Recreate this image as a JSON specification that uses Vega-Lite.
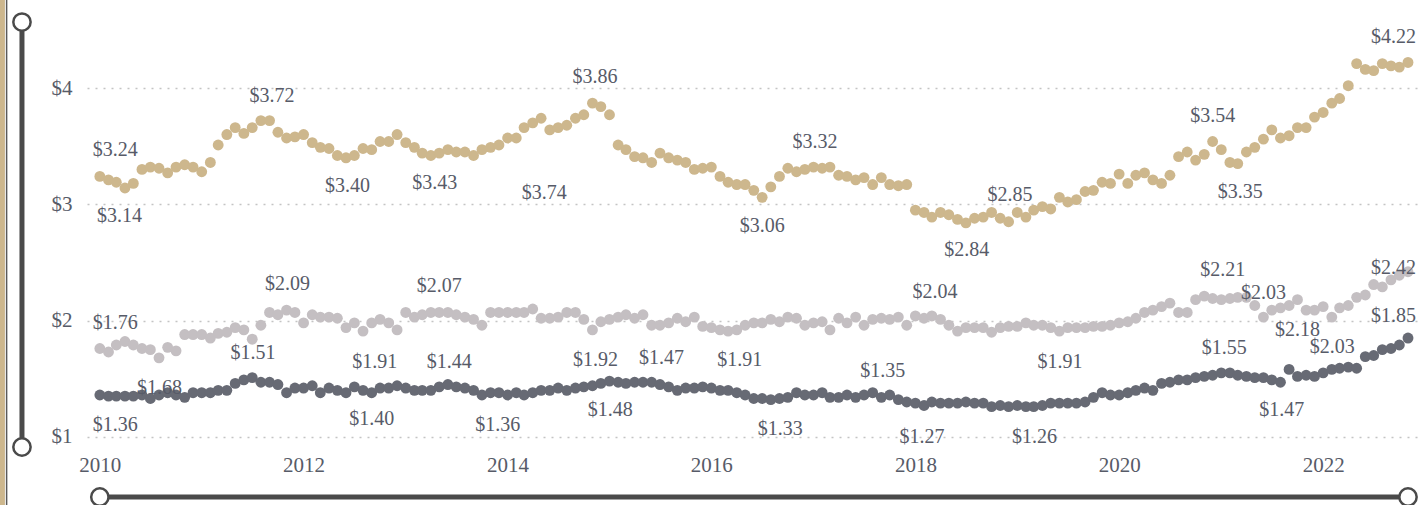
{
  "$schema": "https://vega.github.io/schema/vega-lite/v6.json",
  "width": 1333,
  "height": 437,
  "autosize": {"type": "none"},
  "padding": {"left": 87, "top": 10, "right": 2, "bottom": 58},
  "background": "white",
  "config": {"view": {"stroke": null}, "font": "Liberation Serif"},
  "encoding": {
    "x": {
      "field": "d", "type": "temporal",
      "scale": {"type": "utc", "nice": false, "domain": [{"year": 2009, "month": 11, "date": 16, "utc": true}, {"year": 2022, "month": 12, "date": 14, "utc": true}]},
      "axis": {
        "title": null, "grid": false, "domain": false, "ticks": false, "labelFlush": false,
        "values": [{"year": 2010, "utc": true}, {"year": 2012, "utc": true}, {"year": 2014, "utc": true}, {"year": 2016, "utc": true}, {"year": 2018, "utc": true}, {"year": 2020, "utc": true}, {"year": 2022, "utc": true}],
        "format": "%Y", "labelFontSize": 21, "labelColor": "#575b68", "labelPadding": 7, "labelFont": "Liberation Serif"
      }
    },
    "y": {
      "field": "v", "type": "quantitative",
      "scale": {"domain": [0.913, 4.671], "nice": false, "zero": false},
      "axis": {
        "title": null, "values": [1, 2, 3, 4], "format": "$.0f", "grid": true, "gridDash": [2, 6], "gridColor": "#c4c4c4", "gridWidth": 1.3,
        "domain": false, "ticks": false, "labelFontSize": 21, "labelColor": "#575b68", "labelPadding": 15, "labelFont": "Liberation Serif"
      }
    }
  },
  "layer": [
    {
      "data": {"values": [{"d": "2009-01-17", "v": 0.40, "v2": 4.80}]},
      "mark": {"type": "rule", "color": "#cdb78d", "strokeWidth": 5},
      "encoding": {"y2": {"field": "v2"}}
    },
    {
      "data": {"values": [{"d": "2009-02-01", "v": 0.40, "v2": 4.80}]},
      "mark": {"type": "rule", "color": "#5a5a5a", "strokeWidth": 1.5},
      "encoding": {"y2": {"field": "v2"}}
    },
    {
      "data": {"values": [{"d": "2009-03-28", "v": 0.913, "v2": 4.567}]},
      "mark": {"type": "rule", "color": "#4a4a4a", "strokeWidth": 5},
      "encoding": {"y2": {"field": "v2"}}
    },
    {
      "data": {"values": [{"d": "2010-01-01", "d2": "2022-11-01", "v": 0.483}]},
      "mark": {"type": "rule", "color": "#4a4a4a", "strokeWidth": 5},
      "encoding": {"x2": {"field": "d2"}}
    },
    {
      "data": {"values": [{"d": "2009-03-28", "v": 4.567}, {"d": "2009-03-28", "v": 0.913}, {"d": "2010-01-01", "v": 0.483}, {"d": "2022-11-01", "v": 0.483}]},
      "mark": {"type": "point", "shape": "circle", "filled": true, "fill": "white", "stroke": "#4a4a4a", "strokeWidth": 2.5, "size": 300, "opacity": 1}
    },
    {
      "data": {"name": "pts"},
      "mark": {"type": "circle", "size": 118, "opacity": 1},
      "encoding": {
        "color": {"field": "s", "type": "nominal", "legend": null, "scale": {"domain": ["A", "B", "C"], "range": ["#cdb78d", "#c4bfc2", "#676a74"]}}
      }
    },
    {
      "data": {"name": "labels"},
      "mark": {"type": "text", "fontSize": 20, "color": "#575b68", "align": "center", "baseline": "middle", "font": "Liberation Serif"},
      "encoding": {"text": {"field": "t"}}
    }
  ],
  "datasets": {
    "labels": [
      {"d": "2010-02-25", "v": 3.467, "t": "$3.24"},
      {"d": "2010-03-12", "v": 2.90, "t": "$3.14"},
      {"d": "2011-09-10", "v": 3.93, "t": "$3.72"},
      {"d": "2012-06-06", "v": 3.157, "t": "$3.40"},
      {"d": "2013-04-15", "v": 3.18, "t": "$3.43"},
      {"d": "2014-05-12", "v": 3.098, "t": "$3.74"},
      {"d": "2014-11-10", "v": 4.095, "t": "$3.86"},
      {"d": "2017-01-06", "v": 3.536, "t": "$3.32"},
      {"d": "2016-07-01", "v": 2.814, "t": "$3.06"},
      {"d": "2018-07-04", "v": 2.607, "t": "$2.84"},
      {"d": "2018-12-06", "v": 3.08, "t": "$2.85"},
      {"d": "2020-12-01", "v": 3.76, "t": "$3.54"},
      {"d": "2021-03-10", "v": 3.106, "t": "$3.35"},
      {"d": "2022-09-10", "v": 4.44, "t": "$4.22"},
      {"d": "2010-02-25", "v": 1.98, "t": "$1.76"},
      {"d": "2010-08-03", "v": 1.42, "t": "$1.68"},
      {"d": "2010-02-25", "v": 1.10, "t": "$1.36"},
      {"d": "2011-07-04", "v": 1.72, "t": "$1.51"},
      {"d": "2011-11-04", "v": 2.315, "t": "$2.09"},
      {"d": "2012-09-12", "v": 1.644, "t": "$1.91"},
      {"d": "2012-09-01", "v": 1.154, "t": "$1.40"},
      {"d": "2013-05-01", "v": 2.30, "t": "$2.07"},
      {"d": "2013-06-06", "v": 1.644, "t": "$1.44"},
      {"d": "2013-11-27", "v": 1.10, "t": "$1.36"},
      {"d": "2014-11-12", "v": 1.66, "t": "$1.92"},
      {"d": "2015-07-06", "v": 1.68, "t": "$1.47"},
      {"d": "2015-01-04", "v": 1.23, "t": "$1.48"},
      {"d": "2016-04-12", "v": 1.66, "t": "$1.91"},
      {"d": "2016-09-04", "v": 1.07, "t": "$1.33"},
      {"d": "2017-09-06", "v": 1.566, "t": "$1.35"},
      {"d": "2018-03-12", "v": 2.246, "t": "$2.04"},
      {"d": "2018-01-25", "v": 1.00, "t": "$1.27"},
      {"d": "2019-03-04", "v": 1.00, "t": "$1.26"},
      {"d": "2019-06-03", "v": 1.644, "t": "$1.91"},
      {"d": "2021-01-12", "v": 1.764, "t": "$1.55"},
      {"d": "2021-01-06", "v": 2.435, "t": "$2.21"},
      {"d": "2021-06-01", "v": 2.237, "t": "$2.03"},
      {"d": "2021-10-01", "v": 1.919, "t": "$2.18"},
      {"d": "2022-02-03", "v": 1.773, "t": "$2.03"},
      {"d": "2021-08-06", "v": 1.23, "t": "$1.47"},
      {"d": "2022-09-10", "v": 2.452, "t": "$2.42"},
      {"d": "2022-09-10", "v": 2.04, "t": "$1.85"}
    ],
    "pts": [
      {"d":"2010-01-01","s":"A","v":3.24},{"d":"2010-02-01","s":"A","v":3.21},{"d":"2010-03-01","s":"A","v":3.19},{"d":"2010-04-01","s":"A","v":3.14},{"d":"2010-05-01","s":"A","v":3.18},{"d":"2010-06-01","s":"A","v":3.30},{"d":"2010-07-01","s":"A","v":3.32},{"d":"2010-08-01","s":"A","v":3.31},{"d":"2010-09-01","s":"A","v":3.27},{"d":"2010-10-01","s":"A","v":3.32},{"d":"2010-11-01","s":"A","v":3.34},{"d":"2010-12-01","s":"A","v":3.32},
      {"d":"2011-01-01","s":"A","v":3.28},{"d":"2011-02-01","s":"A","v":3.36},{"d":"2011-03-01","s":"A","v":3.51},{"d":"2011-04-01","s":"A","v":3.60},{"d":"2011-05-01","s":"A","v":3.66},{"d":"2011-06-01","s":"A","v":3.61},{"d":"2011-07-01","s":"A","v":3.66},{"d":"2011-08-01","s":"A","v":3.72},{"d":"2011-09-01","s":"A","v":3.72},{"d":"2011-10-01","s":"A","v":3.62},{"d":"2011-11-01","s":"A","v":3.57},{"d":"2011-12-01","s":"A","v":3.58},
      {"d":"2012-01-01","s":"A","v":3.60},{"d":"2012-02-01","s":"A","v":3.53},{"d":"2012-03-01","s":"A","v":3.49},{"d":"2012-04-01","s":"A","v":3.48},{"d":"2012-05-01","s":"A","v":3.42},{"d":"2012-06-01","s":"A","v":3.40},{"d":"2012-07-01","s":"A","v":3.42},{"d":"2012-08-01","s":"A","v":3.48},{"d":"2012-09-01","s":"A","v":3.47},{"d":"2012-10-01","s":"A","v":3.54},{"d":"2012-11-01","s":"A","v":3.54},{"d":"2012-12-01","s":"A","v":3.60},
      {"d":"2013-01-01","s":"A","v":3.53},{"d":"2013-02-01","s":"A","v":3.49},{"d":"2013-03-01","s":"A","v":3.44},{"d":"2013-04-01","s":"A","v":3.42},{"d":"2013-05-01","s":"A","v":3.44},{"d":"2013-06-01","s":"A","v":3.47},{"d":"2013-07-01","s":"A","v":3.45},{"d":"2013-08-01","s":"A","v":3.45},{"d":"2013-09-01","s":"A","v":3.42},{"d":"2013-10-01","s":"A","v":3.47},{"d":"2013-11-01","s":"A","v":3.49},{"d":"2013-12-01","s":"A","v":3.51},
      {"d":"2014-01-01","s":"A","v":3.57},{"d":"2014-02-01","s":"A","v":3.57},{"d":"2014-03-01","s":"A","v":3.66},{"d":"2014-04-01","s":"A","v":3.70},{"d":"2014-05-01","s":"A","v":3.74},{"d":"2014-06-01","s":"A","v":3.64},{"d":"2014-07-01","s":"A","v":3.66},{"d":"2014-08-01","s":"A","v":3.68},{"d":"2014-09-01","s":"A","v":3.74},{"d":"2014-10-01","s":"A","v":3.77},{"d":"2014-11-01","s":"A","v":3.87},{"d":"2014-12-01","s":"A","v":3.84},
      {"d":"2015-01-01","s":"A","v":3.77},{"d":"2015-02-01","s":"A","v":3.51},{"d":"2015-03-01","s":"A","v":3.47},{"d":"2015-04-01","s":"A","v":3.41},{"d":"2015-05-01","s":"A","v":3.40},{"d":"2015-06-01","s":"A","v":3.36},{"d":"2015-07-01","s":"A","v":3.44},{"d":"2015-08-01","s":"A","v":3.40},{"d":"2015-09-01","s":"A","v":3.38},{"d":"2015-10-01","s":"A","v":3.36},{"d":"2015-11-01","s":"A","v":3.30},{"d":"2015-12-01","s":"A","v":3.31},
      {"d":"2016-01-01","s":"A","v":3.32},{"d":"2016-02-01","s":"A","v":3.24},{"d":"2016-03-01","s":"A","v":3.19},{"d":"2016-04-01","s":"A","v":3.17},{"d":"2016-05-01","s":"A","v":3.17},{"d":"2016-06-01","s":"A","v":3.12},{"d":"2016-07-01","s":"A","v":3.06},{"d":"2016-08-01","s":"A","v":3.15},{"d":"2016-09-01","s":"A","v":3.24},{"d":"2016-10-01","s":"A","v":3.31},{"d":"2016-11-01","s":"A","v":3.28},{"d":"2016-12-01","s":"A","v":3.30},
      {"d":"2017-01-01","s":"A","v":3.32},{"d":"2017-02-01","s":"A","v":3.31},{"d":"2017-03-01","s":"A","v":3.32},{"d":"2017-04-01","s":"A","v":3.25},{"d":"2017-05-01","s":"A","v":3.24},{"d":"2017-06-01","s":"A","v":3.21},{"d":"2017-07-01","s":"A","v":3.23},{"d":"2017-08-01","s":"A","v":3.17},{"d":"2017-09-01","s":"A","v":3.23},{"d":"2017-10-01","s":"A","v":3.17},{"d":"2017-11-01","s":"A","v":3.16},{"d":"2017-12-01","s":"A","v":3.17},
      {"d":"2018-01-01","s":"A","v":2.95},{"d":"2018-02-01","s":"A","v":2.93},{"d":"2018-03-01","s":"A","v":2.89},{"d":"2018-04-01","s":"A","v":2.93},{"d":"2018-05-01","s":"A","v":2.91},{"d":"2018-06-01","s":"A","v":2.87},{"d":"2018-07-01","s":"A","v":2.84},{"d":"2018-08-01","s":"A","v":2.88},{"d":"2018-09-01","s":"A","v":2.89},{"d":"2018-10-01","s":"A","v":2.93},{"d":"2018-11-01","s":"A","v":2.88},{"d":"2018-12-01","s":"A","v":2.85},
      {"d":"2019-01-01","s":"A","v":2.93},{"d":"2019-02-01","s":"A","v":2.89},{"d":"2019-03-01","s":"A","v":2.95},{"d":"2019-04-01","s":"A","v":2.98},{"d":"2019-05-01","s":"A","v":2.96},{"d":"2019-06-01","s":"A","v":3.06},{"d":"2019-07-01","s":"A","v":3.02},{"d":"2019-08-01","s":"A","v":3.04},{"d":"2019-09-01","s":"A","v":3.11},{"d":"2019-10-01","s":"A","v":3.12},{"d":"2019-11-01","s":"A","v":3.19},{"d":"2019-12-01","s":"A","v":3.18},
      {"d":"2020-01-01","s":"A","v":3.26},{"d":"2020-02-01","s":"A","v":3.18},{"d":"2020-03-01","s":"A","v":3.25},{"d":"2020-04-01","s":"A","v":3.27},{"d":"2020-05-01","s":"A","v":3.21},{"d":"2020-06-01","s":"A","v":3.18},{"d":"2020-07-01","s":"A","v":3.25},{"d":"2020-08-01","s":"A","v":3.41},{"d":"2020-09-01","s":"A","v":3.45},{"d":"2020-10-01","s":"A","v":3.38},{"d":"2020-11-01","s":"A","v":3.43},{"d":"2020-12-01","s":"A","v":3.54},
      {"d":"2021-01-01","s":"A","v":3.47},{"d":"2021-02-01","s":"A","v":3.36},{"d":"2021-03-01","s":"A","v":3.35},{"d":"2021-04-01","s":"A","v":3.45},{"d":"2021-05-01","s":"A","v":3.49},{"d":"2021-06-01","s":"A","v":3.56},{"d":"2021-07-01","s":"A","v":3.64},{"d":"2021-08-01","s":"A","v":3.57},{"d":"2021-09-01","s":"A","v":3.59},{"d":"2021-10-01","s":"A","v":3.66},{"d":"2021-11-01","s":"A","v":3.66},{"d":"2021-12-01","s":"A","v":3.75},
      {"d":"2022-01-01","s":"A","v":3.79},{"d":"2022-02-01","s":"A","v":3.87},{"d":"2022-03-01","s":"A","v":3.91},{"d":"2022-04-01","s":"A","v":4.02},{"d":"2022-05-01","s":"A","v":4.21},{"d":"2022-06-01","s":"A","v":4.16},{"d":"2022-07-01","s":"A","v":4.15},{"d":"2022-08-01","s":"A","v":4.21},{"d":"2022-09-01","s":"A","v":4.19},{"d":"2022-10-01","s":"A","v":4.18},{"d":"2022-11-01","s":"A","v":4.22},

      {"d":"2010-01-01","s":"B","v":1.76},{"d":"2010-02-01","s":"B","v":1.73},{"d":"2010-03-01","s":"B","v":1.79},{"d":"2010-04-01","s":"B","v":1.82},{"d":"2010-05-01","s":"B","v":1.79},{"d":"2010-06-01","s":"B","v":1.76},{"d":"2010-07-01","s":"B","v":1.75},{"d":"2010-08-01","s":"B","v":1.68},{"d":"2010-09-01","s":"B","v":1.77},{"d":"2010-10-01","s":"B","v":1.74},{"d":"2010-11-01","s":"B","v":1.88},{"d":"2010-12-01","s":"B","v":1.88},
      {"d":"2011-01-01","s":"B","v":1.88},{"d":"2011-02-01","s":"B","v":1.85},{"d":"2011-03-01","s":"B","v":1.89},{"d":"2011-04-01","s":"B","v":1.90},{"d":"2011-05-01","s":"B","v":1.94},{"d":"2011-06-01","s":"B","v":1.92},{"d":"2011-07-01","s":"B","v":1.84},{"d":"2011-08-01","s":"B","v":1.96},{"d":"2011-09-01","s":"B","v":2.07},{"d":"2011-10-01","s":"B","v":2.05},{"d":"2011-11-01","s":"B","v":2.09},{"d":"2011-12-01","s":"B","v":2.07},
      {"d":"2012-01-01","s":"B","v":1.98},{"d":"2012-02-01","s":"B","v":2.05},{"d":"2012-03-01","s":"B","v":2.03},{"d":"2012-04-01","s":"B","v":2.03},{"d":"2012-05-01","s":"B","v":2.02},{"d":"2012-06-01","s":"B","v":1.94},{"d":"2012-07-01","s":"B","v":1.98},{"d":"2012-08-01","s":"B","v":1.91},{"d":"2012-09-01","s":"B","v":1.98},{"d":"2012-10-01","s":"B","v":2.01},{"d":"2012-11-01","s":"B","v":1.98},{"d":"2012-12-01","s":"B","v":1.92},
      {"d":"2013-01-01","s":"B","v":2.07},{"d":"2013-02-01","s":"B","v":2.03},{"d":"2013-03-01","s":"B","v":2.05},{"d":"2013-04-01","s":"B","v":2.07},{"d":"2013-05-01","s":"B","v":2.07},{"d":"2013-06-01","s":"B","v":2.07},{"d":"2013-07-01","s":"B","v":2.05},{"d":"2013-08-01","s":"B","v":2.03},{"d":"2013-09-01","s":"B","v":2.01},{"d":"2013-10-01","s":"B","v":1.96},{"d":"2013-11-01","s":"B","v":2.07},{"d":"2013-12-01","s":"B","v":2.07},
      {"d":"2014-01-01","s":"B","v":2.07},{"d":"2014-02-01","s":"B","v":2.07},{"d":"2014-03-01","s":"B","v":2.07},{"d":"2014-04-01","s":"B","v":2.10},{"d":"2014-05-01","s":"B","v":2.02},{"d":"2014-06-01","s":"B","v":2.02},{"d":"2014-07-01","s":"B","v":2.03},{"d":"2014-08-01","s":"B","v":2.07},{"d":"2014-09-01","s":"B","v":2.07},{"d":"2014-10-01","s":"B","v":2.01},{"d":"2014-11-01","s":"B","v":1.92},{"d":"2014-12-01","s":"B","v":1.99},
      {"d":"2015-01-01","s":"B","v":2.01},{"d":"2015-02-01","s":"B","v":2.03},{"d":"2015-03-01","s":"B","v":2.05},{"d":"2015-04-01","s":"B","v":2.02},{"d":"2015-05-01","s":"B","v":2.05},{"d":"2015-06-01","s":"B","v":1.96},{"d":"2015-07-01","s":"B","v":1.96},{"d":"2015-08-01","s":"B","v":1.98},{"d":"2015-09-01","s":"B","v":2.02},{"d":"2015-10-01","s":"B","v":1.99},{"d":"2015-11-01","s":"B","v":2.03},{"d":"2015-12-01","s":"B","v":1.95},
      {"d":"2016-01-01","s":"B","v":1.94},{"d":"2016-02-01","s":"B","v":1.92},{"d":"2016-03-01","s":"B","v":1.91},{"d":"2016-04-01","s":"B","v":1.92},{"d":"2016-05-01","s":"B","v":1.96},{"d":"2016-06-01","s":"B","v":1.98},{"d":"2016-07-01","s":"B","v":1.98},{"d":"2016-08-01","s":"B","v":2.01},{"d":"2016-09-01","s":"B","v":1.99},{"d":"2016-10-01","s":"B","v":2.03},{"d":"2016-11-01","s":"B","v":2.02},{"d":"2016-12-01","s":"B","v":1.96},
      {"d":"2017-01-01","s":"B","v":1.98},{"d":"2017-02-01","s":"B","v":1.99},{"d":"2017-03-01","s":"B","v":1.92},{"d":"2017-04-01","s":"B","v":2.02},{"d":"2017-05-01","s":"B","v":1.98},{"d":"2017-06-01","s":"B","v":2.03},{"d":"2017-07-01","s":"B","v":1.96},{"d":"2017-08-01","s":"B","v":2.01},{"d":"2017-09-01","s":"B","v":2.02},{"d":"2017-10-01","s":"B","v":2.01},{"d":"2017-11-01","s":"B","v":2.03},{"d":"2017-12-01","s":"B","v":1.96},
      {"d":"2018-01-01","s":"B","v":2.04},{"d":"2018-02-01","s":"B","v":2.02},{"d":"2018-03-01","s":"B","v":2.04},{"d":"2018-04-01","s":"B","v":2.01},{"d":"2018-05-01","s":"B","v":1.96},{"d":"2018-06-01","s":"B","v":1.91},{"d":"2018-07-01","s":"B","v":1.94},{"d":"2018-08-01","s":"B","v":1.94},{"d":"2018-09-01","s":"B","v":1.94},{"d":"2018-10-01","s":"B","v":1.90},{"d":"2018-11-01","s":"B","v":1.94},{"d":"2018-12-01","s":"B","v":1.95},
      {"d":"2019-01-01","s":"B","v":1.95},{"d":"2019-02-01","s":"B","v":1.98},{"d":"2019-03-01","s":"B","v":1.96},{"d":"2019-04-01","s":"B","v":1.96},{"d":"2019-05-01","s":"B","v":1.94},{"d":"2019-06-01","s":"B","v":1.91},{"d":"2019-07-01","s":"B","v":1.94},{"d":"2019-08-01","s":"B","v":1.94},{"d":"2019-09-01","s":"B","v":1.94},{"d":"2019-10-01","s":"B","v":1.95},{"d":"2019-11-01","s":"B","v":1.95},{"d":"2019-12-01","s":"B","v":1.96},
      {"d":"2020-01-01","s":"B","v":1.98},{"d":"2020-02-01","s":"B","v":1.99},{"d":"2020-03-01","s":"B","v":2.02},{"d":"2020-04-01","s":"B","v":2.07},{"d":"2020-05-01","s":"B","v":2.09},{"d":"2020-06-01","s":"B","v":2.12},{"d":"2020-07-01","s":"B","v":2.15},{"d":"2020-08-01","s":"B","v":2.07},{"d":"2020-09-01","s":"B","v":2.07},{"d":"2020-10-01","s":"B","v":2.18},{"d":"2020-11-01","s":"B","v":2.21},{"d":"2020-12-01","s":"B","v":2.19},
      {"d":"2021-01-01","s":"B","v":2.18},{"d":"2021-02-01","s":"B","v":2.19},{"d":"2021-03-01","s":"B","v":2.20},{"d":"2021-04-01","s":"B","v":2.20},{"d":"2021-05-01","s":"B","v":2.13},{"d":"2021-06-01","s":"B","v":2.03},{"d":"2021-07-01","s":"B","v":2.09},{"d":"2021-08-01","s":"B","v":2.11},{"d":"2021-09-01","s":"B","v":2.13},{"d":"2021-10-01","s":"B","v":2.18},{"d":"2021-11-01","s":"B","v":2.09},{"d":"2021-12-01","s":"B","v":2.09},
      {"d":"2022-01-01","s":"B","v":2.12},{"d":"2022-02-01","s":"B","v":2.03},{"d":"2022-03-01","s":"B","v":2.11},{"d":"2022-04-01","s":"B","v":2.13},{"d":"2022-05-01","s":"B","v":2.20},{"d":"2022-06-01","s":"B","v":2.22},{"d":"2022-07-01","s":"B","v":2.31},{"d":"2022-08-01","s":"B","v":2.29},{"d":"2022-09-01","s":"B","v":2.35},{"d":"2022-10-01","s":"B","v":2.39},{"d":"2022-11-01","s":"B","v":2.42},

      {"d":"2010-01-01","s":"C","v":1.36},{"d":"2010-02-01","s":"C","v":1.35},{"d":"2010-03-01","s":"C","v":1.35},{"d":"2010-04-01","s":"C","v":1.35},{"d":"2010-05-01","s":"C","v":1.35},{"d":"2010-06-01","s":"C","v":1.36},{"d":"2010-07-01","s":"C","v":1.33},{"d":"2010-08-01","s":"C","v":1.36},{"d":"2010-09-01","s":"C","v":1.38},{"d":"2010-10-01","s":"C","v":1.36},{"d":"2010-11-01","s":"C","v":1.34},{"d":"2010-12-01","s":"C","v":1.38},
      {"d":"2011-01-01","s":"C","v":1.38},{"d":"2011-02-01","s":"C","v":1.38},{"d":"2011-03-01","s":"C","v":1.40},{"d":"2011-04-01","s":"C","v":1.40},{"d":"2011-05-01","s":"C","v":1.46},{"d":"2011-06-01","s":"C","v":1.49},{"d":"2011-07-01","s":"C","v":1.51},{"d":"2011-08-01","s":"C","v":1.47},{"d":"2011-09-01","s":"C","v":1.47},{"d":"2011-10-01","s":"C","v":1.45},{"d":"2011-11-01","s":"C","v":1.38},{"d":"2011-12-01","s":"C","v":1.42},
      {"d":"2012-01-01","s":"C","v":1.42},{"d":"2012-02-01","s":"C","v":1.44},{"d":"2012-03-01","s":"C","v":1.38},{"d":"2012-04-01","s":"C","v":1.42},{"d":"2012-05-01","s":"C","v":1.40},{"d":"2012-06-01","s":"C","v":1.38},{"d":"2012-07-01","s":"C","v":1.43},{"d":"2012-08-01","s":"C","v":1.40},{"d":"2012-09-01","s":"C","v":1.38},{"d":"2012-10-01","s":"C","v":1.42},{"d":"2012-11-01","s":"C","v":1.42},{"d":"2012-12-01","s":"C","v":1.44},
      {"d":"2013-01-01","s":"C","v":1.42},{"d":"2013-02-01","s":"C","v":1.40},{"d":"2013-03-01","s":"C","v":1.40},{"d":"2013-04-01","s":"C","v":1.40},{"d":"2013-05-01","s":"C","v":1.43},{"d":"2013-06-01","s":"C","v":1.45},{"d":"2013-07-01","s":"C","v":1.43},{"d":"2013-08-01","s":"C","v":1.42},{"d":"2013-09-01","s":"C","v":1.40},{"d":"2013-10-01","s":"C","v":1.36},{"d":"2013-11-01","s":"C","v":1.38},{"d":"2013-12-01","s":"C","v":1.38},
      {"d":"2014-01-01","s":"C","v":1.36},{"d":"2014-02-01","s":"C","v":1.38},{"d":"2014-03-01","s":"C","v":1.36},{"d":"2014-04-01","s":"C","v":1.38},{"d":"2014-05-01","s":"C","v":1.40},{"d":"2014-06-01","s":"C","v":1.40},{"d":"2014-07-01","s":"C","v":1.42},{"d":"2014-08-01","s":"C","v":1.40},{"d":"2014-09-01","s":"C","v":1.42},{"d":"2014-10-01","s":"C","v":1.43},{"d":"2014-11-01","s":"C","v":1.44},{"d":"2014-12-01","s":"C","v":1.46},
      {"d":"2015-01-01","s":"C","v":1.48},{"d":"2015-02-01","s":"C","v":1.47},{"d":"2015-03-01","s":"C","v":1.46},{"d":"2015-04-01","s":"C","v":1.47},{"d":"2015-05-01","s":"C","v":1.47},{"d":"2015-06-01","s":"C","v":1.47},{"d":"2015-07-01","s":"C","v":1.45},{"d":"2015-08-01","s":"C","v":1.43},{"d":"2015-09-01","s":"C","v":1.40},{"d":"2015-10-01","s":"C","v":1.42},{"d":"2015-11-01","s":"C","v":1.42},{"d":"2015-12-01","s":"C","v":1.43},
      {"d":"2016-01-01","s":"C","v":1.42},{"d":"2016-02-01","s":"C","v":1.40},{"d":"2016-03-01","s":"C","v":1.40},{"d":"2016-04-01","s":"C","v":1.38},{"d":"2016-05-01","s":"C","v":1.36},{"d":"2016-06-01","s":"C","v":1.33},{"d":"2016-07-01","s":"C","v":1.33},{"d":"2016-08-01","s":"C","v":1.32},{"d":"2016-09-01","s":"C","v":1.33},{"d":"2016-10-01","s":"C","v":1.34},{"d":"2016-11-01","s":"C","v":1.38},{"d":"2016-12-01","s":"C","v":1.36},
      {"d":"2017-01-01","s":"C","v":1.36},{"d":"2017-02-01","s":"C","v":1.38},{"d":"2017-03-01","s":"C","v":1.34},{"d":"2017-04-01","s":"C","v":1.34},{"d":"2017-05-01","s":"C","v":1.36},{"d":"2017-06-01","s":"C","v":1.34},{"d":"2017-07-01","s":"C","v":1.36},{"d":"2017-08-01","s":"C","v":1.38},{"d":"2017-09-01","s":"C","v":1.34},{"d":"2017-10-01","s":"C","v":1.36},{"d":"2017-11-01","s":"C","v":1.32},{"d":"2017-12-01","s":"C","v":1.30},
      {"d":"2018-01-01","s":"C","v":1.29},{"d":"2018-02-01","s":"C","v":1.27},{"d":"2018-03-01","s":"C","v":1.30},{"d":"2018-04-01","s":"C","v":1.29},{"d":"2018-05-01","s":"C","v":1.29},{"d":"2018-06-01","s":"C","v":1.29},{"d":"2018-07-01","s":"C","v":1.30},{"d":"2018-08-01","s":"C","v":1.29},{"d":"2018-09-01","s":"C","v":1.29},{"d":"2018-10-01","s":"C","v":1.26},{"d":"2018-11-01","s":"C","v":1.27},{"d":"2018-12-01","s":"C","v":1.26},
      {"d":"2019-01-01","s":"C","v":1.27},{"d":"2019-02-01","s":"C","v":1.26},{"d":"2019-03-01","s":"C","v":1.26},{"d":"2019-04-01","s":"C","v":1.27},{"d":"2019-05-01","s":"C","v":1.29},{"d":"2019-06-01","s":"C","v":1.29},{"d":"2019-07-01","s":"C","v":1.29},{"d":"2019-08-01","s":"C","v":1.29},{"d":"2019-09-01","s":"C","v":1.30},{"d":"2019-10-01","s":"C","v":1.34},{"d":"2019-11-01","s":"C","v":1.38},{"d":"2019-12-01","s":"C","v":1.36},
      {"d":"2020-01-01","s":"C","v":1.36},{"d":"2020-02-01","s":"C","v":1.38},{"d":"2020-03-01","s":"C","v":1.40},{"d":"2020-04-01","s":"C","v":1.42},{"d":"2020-05-01","s":"C","v":1.40},{"d":"2020-06-01","s":"C","v":1.46},{"d":"2020-07-01","s":"C","v":1.47},{"d":"2020-08-01","s":"C","v":1.49},{"d":"2020-09-01","s":"C","v":1.49},{"d":"2020-10-01","s":"C","v":1.51},{"d":"2020-11-01","s":"C","v":1.52},{"d":"2020-12-01","s":"C","v":1.53},
      {"d":"2021-01-01","s":"C","v":1.55},{"d":"2021-02-01","s":"C","v":1.55},{"d":"2021-03-01","s":"C","v":1.53},{"d":"2021-04-01","s":"C","v":1.52},{"d":"2021-05-01","s":"C","v":1.51},{"d":"2021-06-01","s":"C","v":1.51},{"d":"2021-07-01","s":"C","v":1.49},{"d":"2021-08-01","s":"C","v":1.47},{"d":"2021-09-01","s":"C","v":1.58},{"d":"2021-10-01","s":"C","v":1.52},{"d":"2021-11-01","s":"C","v":1.53},{"d":"2021-12-01","s":"C","v":1.52},
      {"d":"2022-01-01","s":"C","v":1.55},{"d":"2022-02-01","s":"C","v":1.58},{"d":"2022-03-01","s":"C","v":1.59},{"d":"2022-04-01","s":"C","v":1.60},{"d":"2022-05-01","s":"C","v":1.59},{"d":"2022-06-01","s":"C","v":1.69},{"d":"2022-07-01","s":"C","v":1.70},{"d":"2022-08-01","s":"C","v":1.75},{"d":"2022-09-01","s":"C","v":1.76},{"d":"2022-10-01","s":"C","v":1.79},{"d":"2022-11-01","s":"C","v":1.85}
    ]
  }
}
